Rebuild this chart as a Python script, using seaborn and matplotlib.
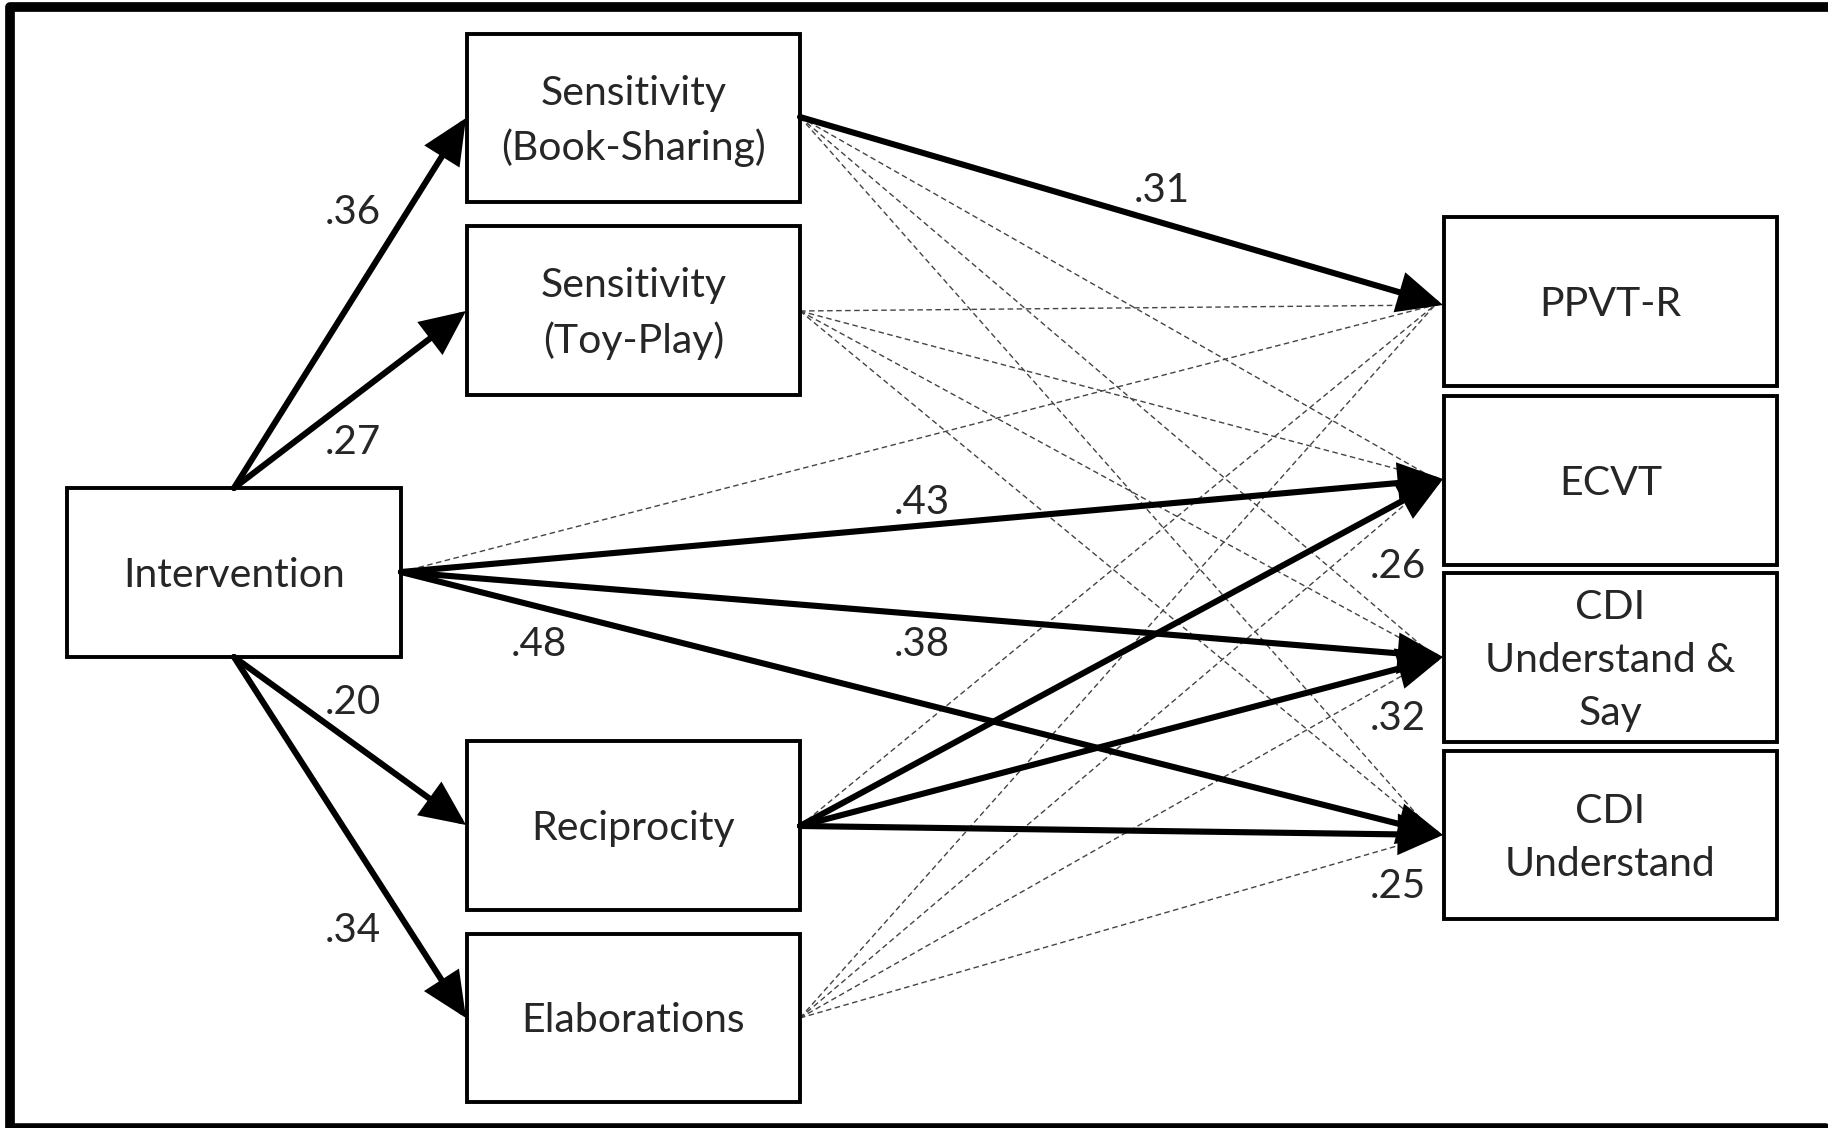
import numpy as np
import seaborn as sns
import matplotlib.pyplot as plt
from matplotlib.patches import Rectangle

sns.set_style("white")
plt.rcParams["font.family"] = ["Lato", "DejaVu Sans"]

W, H = 1828, 1128
DPI = 100

# nodes of the path model
node_names = ["Intervention", "Sensitivity\n(Book-Sharing)", "Sensitivity\n(Toy-Play)",
              "Reciprocity", "Elaborations", "PPVT-R", "ECVT",
              "CDI\nUnderstand &\nSay", "CDI\nUnderstand"]
node_keys = ["int", "book", "toy", "rec", "ela", "ppvt", "ecvt", "cdius", "cdiu"]

# significant paths and their standardized coefficients
sig_from = ["int", "int", "int", "int", "book", "int", "int", "int", "rec", "rec", "rec"]
sig_to = ["book", "toy", "rec", "ela", "ppvt", "ecvt", "cdius", "cdiu", "ecvt", "cdius", "cdiu"]
sig_coef = [".36", ".27", ".20", ".34", ".31", ".43", ".38", ".48", ".26", ".32", ".25"]

# non-significant paths (dashed)
ns_from = ["int", "book", "book", "book", "toy", "toy", "toy", "toy",
           "rec", "ela", "ela", "ela", "ela"]
ns_to = ["ppvt", "ecvt", "cdius", "cdiu", "ppvt", "ecvt", "cdius", "cdiu",
         "ppvt", "ppvt", "ecvt", "cdius", "cdiu"]

# layout (pixels, y downwards): x0, y0, x1, y1
boxes = {
    "int": (67, 488, 401, 657),
    "book": (467, 34, 800, 202),
    "toy": (467, 226, 800, 395),
    "rec": (467, 741, 800, 910),
    "ela": (467, 934, 800, 1102),
    "ppvt": (1444, 217, 1777, 386),
    "ecvt": (1444, 396, 1777, 565),
    "cdius": (1444, 573, 1777, 742),
    "cdiu": (1444, 751, 1777, 919),
}
# attachment points
starts = {"int_top": (234, 488), "int_bot": (234, 657), "int": (401, 572),
          "book": (800, 117), "toy": (800, 311), "rec": (800, 826), "ela": (800, 1018)}
ends = {"book": (466, 118), "toy": (466, 311), "rec": (466, 825), "ela": (466, 1018),
        "ppvt": (1443, 305), "ecvt": (1443, 479), "cdius": (1443, 657), "cdiu": (1443, 835)}
label_pos = [(353, 212), (353, 443), (353, 703), (353, 930), (1162, 191), (922, 502),
             (922, 644), (539, 644), (1398, 567), (1398, 718), (1398, 886)]

fig = plt.figure(figsize=(W / DPI, H / DPI), dpi=DPI)
ax = fig.add_axes([0, 0, 1, 1])
ax.set_xlim(0, W)
ax.set_ylim(H, 0)
ax.axis("off")

# outer frame
ax.plot([10, 10, 1826], [1126, 7, 7], color="black", lw=7, solid_capstyle="projecting")
ax.plot([10, 1826], [1126, 1126], color="black", lw=4)


def start_of(src, dst):
    if src == "int" and dst in ("book", "toy"):
        return starts["int_top"]
    if src == "int" and dst in ("rec", "ela"):
        return starts["int_bot"]
    return starts[src]


for s, d in zip(ns_from, ns_to):
    p0 = start_of(s, d)
    p1 = ends[d]
    ax.plot([p0[0], p1[0] - 8], [p0[1], p1[1]], color="#444444", lw=1.0,
            ls=(0, (4, 2.5)), zorder=1)

for s, d in zip(sig_from, sig_to):
    p0 = start_of(s, d)
    p1 = ends[d]
    ax.annotate("", xy=p1, xytext=p0,
                arrowprops=dict(arrowstyle="-|>,head_length=1.2,head_width=0.55",
                                mutation_scale=21, lw=4.4, color="black",
                                shrinkA=0, shrinkB=0, joinstyle="miter"),
                zorder=3)

for (x, y), c in zip(label_pos, sig_coef):
    ax.text(x, y, c, fontsize=29, ha="center", va="center", zorder=4)

for k, name in zip(node_keys, node_names):
    x0, y0, x1, y1 = boxes[k]
    ax.add_patch(Rectangle((x0, y0), x1 - x0, y1 - y0, facecolor="white",
                           edgecolor="black", lw=2.8, zorder=2))
    ax.text((x0 + x1) / 2, (y0 + y1) / 2 + 3, name, fontsize=29.5, ha="center",
            va="center", linespacing=1.52, zorder=4)

fig.savefig("out.png", dpi=DPI)
